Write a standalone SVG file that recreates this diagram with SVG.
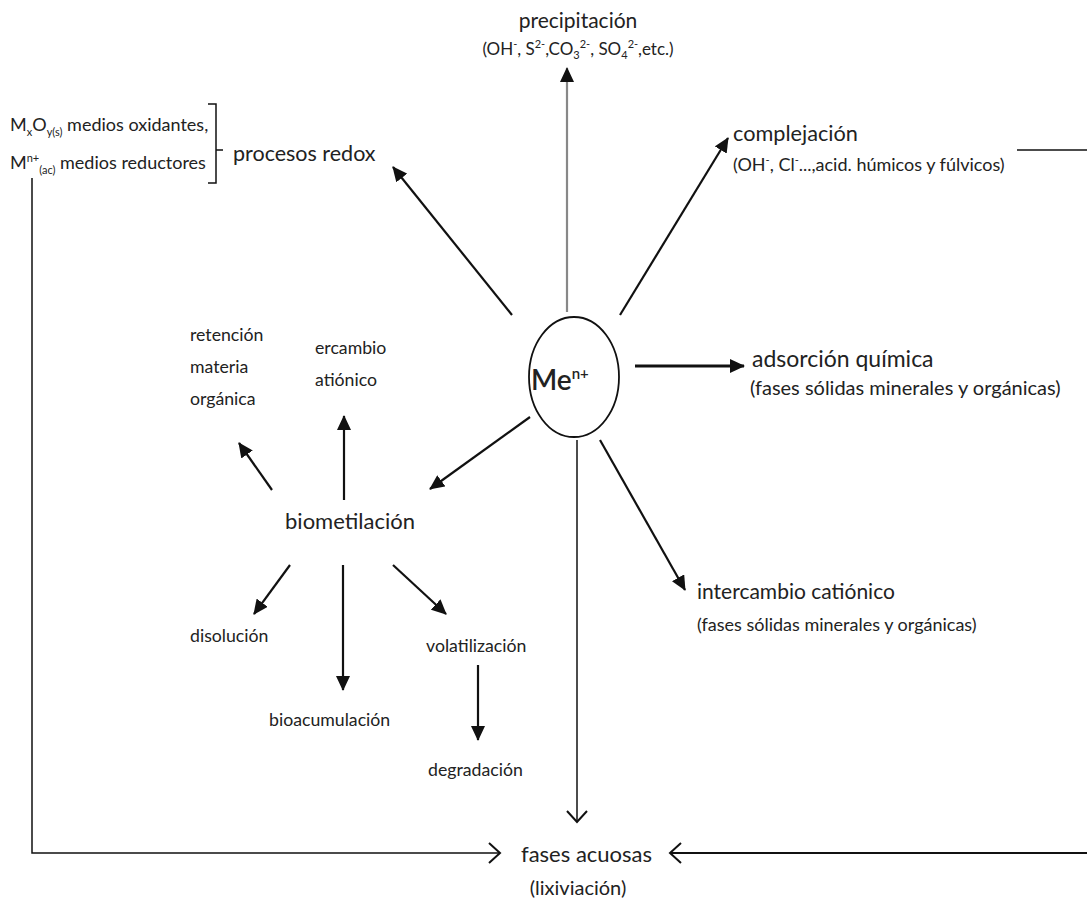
<svg xmlns="http://www.w3.org/2000/svg" width="1087" height="911" viewBox="0 0 1087 911">
<defs>
<marker id="fa" markerUnits="userSpaceOnUse" markerWidth="16" markerHeight="14" refX="14" refY="7" orient="auto"><path d="M0,0 L15,7 L0,14 Z" fill="#111"/></marker>
<marker id="oa" markerUnits="userSpaceOnUse" markerWidth="14" markerHeight="22" refX="12" refY="11" orient="auto"><path d="M1,1 L12,11 L1,21" fill="none" stroke="#111" stroke-width="2"/></marker>
<style>
text{font-family:Lato,"Open Sans","Liberation Sans",sans-serif;fill:#222}
.big{font-size:21px}
.sub{font-size:18px}
.mid{font-size:17.7px}
.sup{font-size:11px}
.a{stroke:#111;stroke-width:2.2;fill:none;marker-end:url(#fa)}
.t{stroke:#111;stroke-width:1.5;fill:none}
</style>
</defs>
<rect width="1087" height="911" fill="#fff"/>
<g id="connectors">
<line x1="567" y1="312" x2="567" y2="68" stroke="#888" stroke-width="2.2" marker-end="url(#fa)"/>
<line class="a" x1="512" y1="315" x2="393" y2="167"/>
<line class="a" x1="620" y1="315" x2="728" y2="138"/>
<line class="a" x1="635" y1="366" x2="744" y2="366" style="stroke-width:3"/>
<line class="a" x1="600" y1="440" x2="685" y2="590"/>
<line class="t" x1="577" y1="440" x2="577" y2="822" marker-end="url(#oa)"/>
<polyline class="t" points="32,178 32,853 500,853" marker-end="url(#oa)"/>
<polyline class="t" points="1017,150 1087,150"/>
<line class="t" x1="1087" y1="853" x2="670" y2="853" style="stroke-width:2" marker-end="url(#oa)"/>
<line class="a" x1="530" y1="417" x2="430" y2="489"/>
<line class="a" x1="344" y1="500" x2="344" y2="416"/>
<line class="a" x1="272" y1="490" x2="239" y2="443"/>
<line class="a" x1="290" y1="565" x2="254" y2="614"/>
<line class="a" x1="343" y1="565" x2="343" y2="690"/>
<line class="a" x1="393" y1="565" x2="446" y2="614"/>
<line class="a" x1="478" y1="665" x2="478" y2="740"/>
<path class="t" d="M208,104 H216 V183 H208 M216,150 H223"/>
</g>
<g id="center">
<ellipse cx="574" cy="377" rx="45" ry="60" fill="none" stroke="#111" stroke-width="1.8"/>
<text x="531" y="390" style="font-size:28px;font-weight:600">Me<tspan dy="-11" style="font-size:15px">n+</tspan></text>
</g>
<g id="precipitacion">
<text x="578" y="28" class="big" text-anchor="middle">precipitación</text>
<text x="578" y="55" style="font-size:17px" text-anchor="middle">(OH<tspan dy="-7" class="sup">-</tspan><tspan dy="7">, S</tspan><tspan dy="-7" class="sup">2-</tspan><tspan dy="7">,CO</tspan><tspan dy="4" class="sup">3</tspan><tspan dy="-11" class="sup">2-</tspan><tspan dy="7">, SO</tspan><tspan dy="4" class="sup">4</tspan><tspan dy="-11" class="sup">2-</tspan><tspan dy="7">,etc.)</tspan></text>
</g>
<g id="complejacion">
<text x="733" y="141" style="font-size:21.7px">complejación</text>
<text x="733" y="171" class="sub">(OH<tspan dy="-7" class="sup">-</tspan><tspan dy="7">, Cl</tspan><tspan dy="-7" class="sup">-</tspan><tspan dy="7">...,acid. húmicos y fúlvicos)</tspan></text>
</g>
<g id="redox">
<text x="233" y="161" style="font-size:21.5px">procesos redox</text>
<text x="10" y="131" style="font-size:18px">M<tspan dy="5" class="sup">x</tspan><tspan dy="-5">O</tspan><tspan dy="5" class="sup">y(s)</tspan><tspan dy="-5"> medios oxidantes,</tspan></text>
<text x="10" y="169" style="font-size:18px">M<tspan dy="-7" class="sup">n+</tspan><tspan dy="12" class="sup">(ac)</tspan><tspan dy="-5"> medios reductores</tspan></text>
</g>
<g id="adsorcion">
<text x="752" y="367" style="font-size:23px">adsorción química</text>
<text x="750" y="395" style="font-size:20px">(fases sólidas minerales y orgánicas)</text>
</g>
<g id="intercambio">
<text x="697" y="599" class="big">intercambio catiónico</text>
<text x="697" y="631" class="sub">(fases sólidas minerales y orgánicas)</text>
</g>
<g id="fases">
<text x="521" y="862" style="font-size:22px">fases acuosas</text>
<text x="578" y="895" style="font-size:20px" text-anchor="middle">(lixiviación)</text>
</g>
<g id="biometilacion">
<text x="350" y="529" style="font-size:22px" text-anchor="middle">biometilación</text>
</g>
<g id="retencion">
<text x="190" y="341" class="mid">retención</text>
<text x="190" y="373" class="mid">materia</text>
<text x="190" y="405" class="mid">orgánica</text>
</g>
<g id="ercambio">
<text x="315" y="354" class="mid">ercambio</text>
<text x="315" y="386" class="mid">atiónico</text>
</g>
<g id="disolucion"><text x="190" y="642" class="mid">disolución</text></g>
<g id="bioacumulacion"><text x="269" y="726" class="mid">bioacumulación</text></g>
<g id="volatilizacion"><text x="426" y="652" class="mid">volatilización</text></g>
<g id="degradacion"><text x="428" y="776" class="mid">degradación</text></g>
</svg>
